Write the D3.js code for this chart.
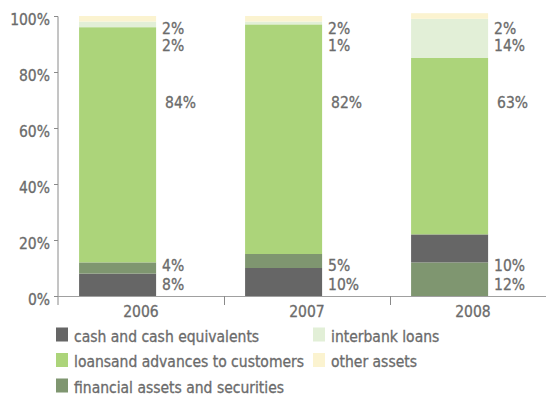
<!DOCTYPE html>
<html>
<head>
<meta charset="utf-8">
<script src="https://cdn.jsdelivr.net/npm/d3@7"></script>
<style>
  html, body { margin: 0; padding: 0; background: #fff; }
  svg { display: block; }
  text { font-family: "DejaVu Sans", sans-serif; font-stretch: condensed; fill: #6b6b6b; stroke: #6b6b6b; stroke-width: 0.3px; }
</style>
</head>
<body>
<svg id="chart" width="546" height="395"></svg>
<script>
// Asset structure by year (% of total assets)
const years = ["2006", "2007", "2008"];
const cash      = [8, 10, 10];
const financial = [4, 5, 12];
const loans     = [84, 82, 63];
const interbank = [2, 1, 14];
const other     = [2, 2, 2];
const yTicks = [0, 20, 40, 60, 80, 100];

const seriesNames = {
  cash: "cash and cash equivalents",
  financial: "financial assets and securities",
  loans: "loansand advances to customers",
  interbank: "interbank loans",
  other: "other assets"
};
const seriesValues = { cash, financial, loans, interbank, other };
// stacking order from the bottom, per year
const stackOrder = [
  ["cash", "financial", "loans", "interbank", "other"],
  ["cash", "financial", "loans", "interbank", "other"],
  ["financial", "cash", "loans", "interbank", "other"]
];
const colors = {
  cash: "#666666",
  financial: "#7f9670",
  loans: "#acd47a",
  interbank: "#e2efd7",
  other: "#fbf3d0"
};

const svg = d3.select("#chart");
const plotLeft = 58, plotBottom = 296, plotTop = 16;

const x = d3.scaleBand().domain(years).range([plotLeft, plotLeft + 166 * 3]).padding(0);
const y = d3.scaleLinear().domain([0, 100]).range([plotBottom, plotTop]);
const step = x.step();
const barOff = step * 0.127, barW = step * 0.464;

// stacked segments
const segs = [];
years.forEach((yr, i) => {
  let acc = 0;
  stackOrder[i].forEach(key => {
    const v = seriesValues[key][i];
    segs.push({ year: yr, key, y0: acc, y1: acc + v, v });
    acc += v;
  });
});

svg.append("g").selectAll("rect").data(segs).join("rect")
  .attr("x", d => x(d.year) + barOff)
  .attr("width", barW)
  .attr("y", d => y(d.y1))
  .attr("height", d => y(d.y0) - y(d.y1))
  .attr("fill", d => colors[d.key]);

// Y axis
const yAxis = d3.axisLeft(y).tickValues(yTicks).tickFormat(d => d + "%").tickSize(4).tickPadding(4);
const gy = svg.append("g").attr("transform", `translate(${plotLeft},0)`).call(yAxis);
gy.select(".domain").attr("stroke", "#8a8a8a").attr("d", `M-4,${plotTop + 0.5}H0V${plotBottom + 9}`);
gy.selectAll(".tick line").attr("stroke", "#8a8a8a");
gy.selectAll(".tick text").attr("font-size", 15.5).attr("dy", "0.52em");

// X axis baseline and category separators
const gx = svg.append("g");
gx.append("line").attr("x1", plotLeft).attr("x2", 546).attr("y1", plotBottom + 0.5).attr("y2", plotBottom + 0.5)
  .attr("stroke", "#a0a0a0").attr("stroke-width", 1.2);
gx.selectAll("line.sep").data(years.slice(1)).join("line").attr("class", "sep")
  .attr("x1", d => Math.round(x(d)) + 0.5).attr("x2", d => Math.round(x(d)) + 0.5)
  .attr("y1", plotBottom).attr("y2", plotBottom + 9).attr("stroke", "#8a8a8a");
gx.selectAll("text").data(years).join("text")
  .attr("x", d => x(d) + step / 2)
  .attr("y", plotBottom + 21)
  .attr("text-anchor", "middle")
  .attr("font-size", 15.5)
  .text(d => d);

// value labels to the right of each bar (text baselines)
const labelSlots = {
  other: y(100) + 18,
  interbank: y(100) + 35,
  loans: y(67),
  upperBase: y(0) - 25,
  lowerBase: y(0) - 6
};
const labels = [];
years.forEach((yr, i) => {
  const order = stackOrder[i];
  order.forEach((key, j) => {
    let ly;
    if (key === "other" || key === "interbank" || key === "loans") ly = labelSlots[key];
    else ly = j === 0 ? labelSlots.lowerBase : labelSlots.upperBase;
    labels.push({ year: yr, key, v: seriesValues[key][i], ly });
  });
});
svg.append("g").selectAll("text").data(labels).join("text")
  .attr("x", d => x(d.year) + barOff + barW + (d.key === "loans" ? 9 : 6))
  .attr("y", d => d.ly)
  .attr("font-size", 15.5)
  .text(d => d.v + "%");

// legend
const legendItems = [
  { key: "cash", col: 0, row: 0 },
  { key: "interbank", col: 1, row: 0 },
  { key: "loans", col: 0, row: 1 },
  { key: "other", col: 1, row: 1 },
  { key: "financial", col: 0, row: 2 }
];
const lg = svg.append("g").selectAll("g").data(legendItems).join("g")
  .attr("transform", d => `translate(${56 + d.col * 257},${341.5 + d.row * 25.5})`);
lg.append("rect").attr("x", 0).attr("y", -14).attr("width", 12).attr("height", 14)
  .attr("fill", d => colors[d.key]);
lg.append("text").attr("x", 18).attr("y", 0)
  .attr("font-size", 15.5).text(d => seriesNames[d.key]);
</script>
</body>
</html>
